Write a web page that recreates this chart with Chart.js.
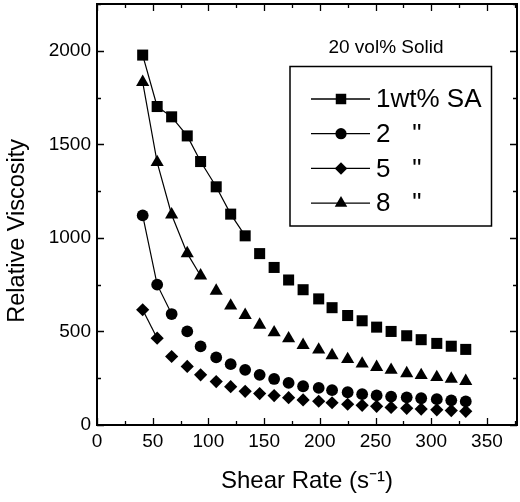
<!DOCTYPE html>
<html>
<head>
<meta charset="utf-8">
<script src="https://cdn.jsdelivr.net/npm/chart.js@4/dist/chart.umd.min.js"></script>
<style>
html,body{margin:0;padding:0;background:#fff;}
#wrap{width:520px;height:502px;position:relative;}
</style>
</head>
<body>
<div id="wrap"><canvas id="c" width="520" height="502"></canvas></div>
<script>
// ---- data ----
const shearRate = [41, 54, 67, 81, 93, 107, 120, 133, 146, 159, 172, 185, 199, 211, 225, 238, 251, 264, 278, 291, 305, 318, 331];
const viscSA1 = [1977, 1702, 1647, 1545, 1408, 1273, 1127, 1011, 916, 842, 775, 723, 674, 627, 585, 557, 523, 500, 477, 456, 436, 421, 404];
const viscSA2 = [1120, 750, 593, 500, 420, 361, 325, 295, 268, 246, 225, 207, 198, 186, 175, 165, 158, 152, 148, 143, 138, 132, 126];
const viscSA5 = [616, 464, 366, 313, 268, 232, 205, 180, 168, 157, 146, 134, 127, 119, 111, 105, 100, 94, 89, 85, 81, 77, 73];
const viscSA8 = [1832, 1404, 1124, 917, 798, 717, 637, 587, 535, 494, 462, 427, 402, 372, 351, 327, 309, 294, 276, 266, 255, 246, 234];
const seriesLabels = ['1wt% SA', '2   "', '5   "', '8   "'];
const lineThroughIndex = [7, 2, 1, 4];   // last point joined by the fitted line
const xTickValues = [0, 50, 100, 150, 200, 250, 300, 350];
const yTickValues = [0, 500, 1000, 1500, 2000];
const xRange = [0, 377];
const yRange = [0, 2250];
const boxTitle = '20 vol% Solid';
const xTitle = 'Shear Rate (s\u207B\u00B9)';
const yTitle = 'Relative Viscosity';

const FONT = "'Liberation Sans', Arial, Helvetica, sans-serif";
const styles = [
  {pointStyle: 'rect', radius: 7.8},
  {pointStyle: 'circle', radius: 5.9},
  {pointStyle: 'rectRot', radius: 6.6},
  {pointStyle: 'triangle', radius: 7.6}
];
const seriesValues = [viscSA1, viscSA2, viscSA5, viscSA8];

const datasets = seriesValues.map((vals, i) => ({
  label: seriesLabels[i],
  data: shearRate.map((x, j) => ({x: x, y: vals[j]})),
  showLine: true,
  borderColor: '#000',
  borderWidth: 1.2,
  backgroundColor: '#000',
  pointStyle: styles[i].pointStyle,
  pointRadius: styles[i].radius,
  pointHoverRadius: styles[i].radius,
  pointBackgroundColor: '#000',
  pointBorderColor: '#000',
  pointBorderWidth: 0,
  tension: 0,
  segment: {
    borderColor: ctx => (ctx.p1DataIndex <= lineThroughIndex[i] ? '#000' : 'rgba(0,0,0,0)')
  }
}));

function drawMarker(ctx, style, radius, x, y) {
  if (Chart.helpers && Chart.helpers.drawPoint) {
    Chart.helpers.drawPoint(ctx, {pointStyle: style, radius: radius, rotation: 0, borderWidth: 0}, x, y);
    return;
  }
  ctx.beginPath();
  ctx.arc(x, y, radius, 0, Math.PI * 2);
  ctx.fill();
}

const framePlugin = {
  id: 'frame',
  afterDraw(chart) {
    const ctx = chart.ctx;
    const a = chart.chartArea;
    const xs = chart.scales.x, ys = chart.scales.y;
    ctx.save();
    ctx.strokeStyle = '#000';
    ctx.lineWidth = 2;
    ctx.strokeRect(a.left, a.top, a.right - a.left, a.bottom - a.top);
    ctx.lineWidth = 1.3;
    ctx.beginPath();
    for (let v = xRange[0]; v <= xRange[1]; v += 25) {
      const px = Math.round(xs.getPixelForValue(v)) + 0.5;
      const len = (v % 50 === 0) ? 7 : 4;
      ctx.moveTo(px, a.bottom); ctx.lineTo(px, a.bottom - len);
      ctx.moveTo(px, a.top); ctx.lineTo(px, a.top + len);
    }
    for (let v = yRange[0]; v <= yRange[1]; v += 250) {
      const py = Math.round(ys.getPixelForValue(v)) + 0.5;
      const len = (v % 500 === 0) ? 7 : 4;
      ctx.moveTo(a.left, py); ctx.lineTo(a.left + len, py);
      ctx.moveTo(a.right, py); ctx.lineTo(a.right - len, py);
    }
    ctx.stroke();

    // box title
    ctx.fillStyle = '#000';
    ctx.font = '19px ' + FONT;
    ctx.textAlign = 'center';
    ctx.textBaseline = 'middle';
    ctx.fillText(boxTitle, 386, 48);

    // legend box
    ctx.lineWidth = 1.5;
    ctx.strokeRect(290, 66.5, 201.5, 159.5);
    ctx.font = '26px ' + FONT;
    ctx.textAlign = 'left';
    chart.data.datasets.forEach((ds, i) => {
      const y = 99 + i * 34.7;
      ctx.lineWidth = 1.3;
      ctx.beginPath();
      ctx.moveTo(311, y); ctx.lineTo(370, y);
      ctx.stroke();
      ctx.fillStyle = '#000';
      drawMarker(ctx, styles[i].pointStyle, styles[i].radius * 0.95, 341, y);
      ctx.fillText(ds.label, 376, y + 1);
    });
    ctx.restore();
  }
};

new Chart(document.getElementById('c'), {
  type: 'line',
  data: {datasets: datasets},
  options: {
    responsive: false,
    animation: false,
    events: [],
    layout: {autoPadding: false, padding: {top: 4, right: 3, left: 0, bottom: 0}},
    plugins: {legend: {display: false}, tooltip: {enabled: false}, title: {display: false}},
    scales: {
      x: {
        type: 'linear',
        min: xRange[0], max: xRange[1],
        grid: {display: false, drawTicks: false},
        border: {display: false},
        afterBuildTicks: s => { s.ticks = xTickValues.map(v => ({value: v})); },
        afterFit: s => { s.height = 77; s.paddingLeft = 0; s.paddingRight = 0; },
        ticks: {color: '#000', font: {family: FONT, size: 19}, padding: 5, maxRotation: 0, autoSkip: false,
                callback: v => String(v)},
        title: {display: true, text: xTitle, color: '#000', font: {family: FONT, size: 24}, padding: {top: 0, bottom: 6}}
      },
      y: {
        type: 'linear',
        min: yRange[0], max: yRange[1],
        grid: {display: false, drawTicks: false},
        border: {display: false},
        afterBuildTicks: s => { s.ticks = yTickValues.map(v => ({value: v})); },
        afterFit: s => { s.width = 97; s.paddingTop = 0; s.paddingBottom = 0; },
        ticks: {color: '#000', font: {family: FONT, size: 19}, padding: 6, autoSkip: false,
                callback: v => String(v)},
        title: {display: true, text: yTitle + '     ', color: '#000', font: {family: FONT, size: 23.5}, padding: {top: 3, bottom: 0}}
      }
    }
  },
  plugins: [framePlugin]
});
</script>
</body>
</html>
